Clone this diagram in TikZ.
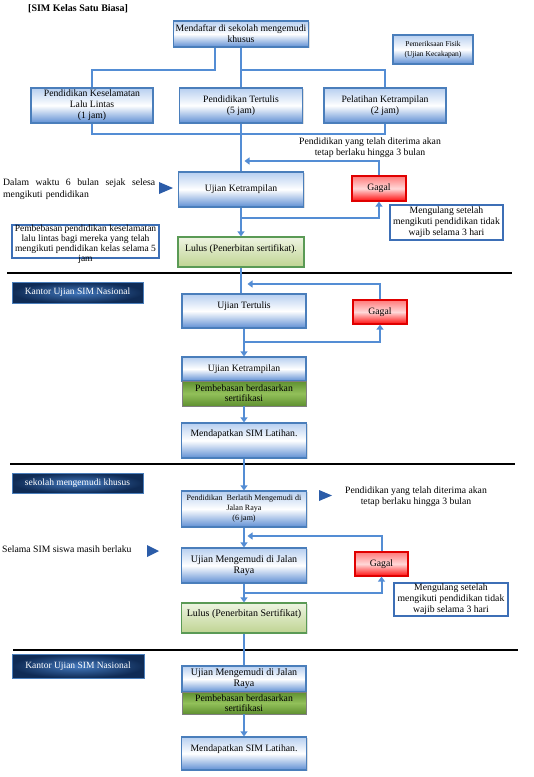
\documentclass[tikz,border=0pt]{standalone}
\usepackage{fontspec}
\setmainfont{Liberation Serif}
\usetikzlibrary{arrows.meta,shadows,calc}
\definecolor{connc}{HTML}{548DD4}
\definecolor{boxb}{HTML}{4A7EBB}
\definecolor{bluetop}{HTML}{B7CFF0}
\definecolor{bluebot}{HTML}{5F8FD4}
\definecolor{redtop}{HTML}{FF7A7A}
\definecolor{redmid}{HTML}{FFD8D8}
\definecolor{redbot}{HTML}{FF0D0D}
\definecolor{redb}{HTML}{E00000}
\definecolor{grtop}{HTML}{EEF4E2}
\definecolor{grbot}{HTML}{BFD492}
\definecolor{grb}{HTML}{5A9A55}
\definecolor{dgtop}{HTML}{5F9030}
\definecolor{dgmid}{HTML}{92C05A}
\definecolor{dgb}{HTML}{7F7F7F}
\definecolor{navyout}{HTML}{0F2B55}
\definecolor{navyin}{HTML}{4379BE}
\definecolor{trianglec}{HTML}{2B5CA8}
\definecolor{noteb}{HTML}{3D6FB6}
\newcommand\fz[2]{\fontsize{#1}{#2}\selectfont}
\begin{document}
\begin{tikzpicture}[x=1pt,y=-1pt,
  shad/.style={drop shadow={opacity=0.25,shadow xshift=1.2pt,shadow yshift=-1.2pt}},
  basebox/.style={draw, line width=1.2pt, inner sep=1pt, align=center, font=\fz{9.7}{11}, shad},
  bluebox/.style={basebox, draw=boxb, top color=bluetop, bottom color=bluebot, middle color=white},
  redbox/.style={basebox, draw=redb, top color=redtop, bottom color=redbot, middle color=redmid},
  greenbox/.style={basebox, draw=grb, top color=grtop, bottom color=grbot},
  dgreenbox/.style={basebox, draw=dgb, line width=0.8pt, top color=dgtop, bottom color=dgtop, middle color=dgmid},
  navybox/.style={draw=boxb, line width=0.8pt, inner color=navyin, outer color=navyout, text=white, font=\fz{9.5}{11}, inner sep=1pt},
  notebox/.style={draw=noteb, line width=1.5pt, fill=white, align=center, font=\fz{9.7}{11}, inner sep=1pt},
  plain/.style={align=center, font=\fz{9.7}{11}, inner sep=0pt},
  conn/.style={draw=connc, line width=2pt},
  arr/.style={-{Triangle[length=5pt,width=7pt]}},
  sz/.style 2 args={minimum width=#1pt, minimum height=#2pt}
]
\useasboundingbox (0,0) rectangle (534,777);
\fill[white] (0,0) rectangle (534,777);

% ---------- Section 1 ----------
\node[anchor=west, font=\bfseries\fz{10}{12}, inner sep=0] (title) at (28,9) {[SIM Kelas Satu Biasa]};
\node[bluebox, sz={135}{26}] (mend) at (241,34) {Mendaftar di sekolah mengemudi\\ khusus};
\node[bluebox, sz={80}{29}, font=\fz{7.5}{10}] (fisik) at (433,49.5) {Pemeriksaan Fisik\\ (Ujian Kecakapan)};
\node[bluebox, sz={122}{35}] (pk) at (92,105.5) {Pendidikan Keselamatan\\ Lalu Lintas\\ (1 jam)};
\node[bluebox, sz={123}{35}] (pt) at (241,105.5) {Pendidikan Tertulis\\ (5 jam)};
\node[bluebox, sz={122}{35}] (pl) at (385,105.5) {Pelatihan Ketrampilan\\ (2 jam)};

\coordinate (a1) at (215,70);
\coordinate (b1) at (0,134);
\draw[conn] (mend.south -| a1) -- (a1) -| (pk.north);
\draw[conn] (mend.south) -- (pt.north);
\draw[conn] (mend.south |- a1) -| (pl.north);
\draw[conn] (pk.south) -- (pk.south |- b1) -- (pl.south |- b1) -- (pl.south);

\node[bluebox, sz={125}{35}] (ujk) at (241,189.5) {Ujian Ketrampilan};
\draw[conn] (pt.south) -- (ujk.north);
\node[redbox, sz={54}{25}] (gagal1) at (379,188.5) {Gagal};
\node[plain] (note1) at (370,148) {Pendidikan yang telah diterima akan\\ tetap berlaku hingga 3 bulan};
\node[plain, anchor=north west, text width=152pt, align=left, font=\fz{9.7}{12}] (left1) at (3,179)
  {\hbox to 152pt{Dalam\hfil waktu\hfil 6\hfil bulan\hfil sejak\hfil selesa}\\ mengikuti pendidikan};
\fill[trianglec] (159,182) -- (173,188) -- (159,194) -- cycle;
\node[notebox, sz={113}{35}] (ul1) at (446.5,222.5) {Mengulang setelah\\ mengikuti pendidikan tidak\\ wajib selama 3 hari};
\node[draw=noteb, line width=1.5pt, fill=white, sz={147}{33}, inner sep=0] (peb1) at (85.5,241.5) {};
\node[plain, anchor=north, font=\fz{9.5}{10}] (peb1t) at (peb1.north) {Pembebasan pendidikan keselamatan\\ lalu lintas bagi mereka yang telah\\ mengikuti pendidikan kelas selama 5\\ jam};
\node[greenbox, sz={126}{30}, text height=7pt, text depth=9pt] (lulus1) at (241,252) {Lulus (Penerbitan sertifikat).};

\coordinate (f1) at (244.5,161);
\coordinate (g1) at (241,218);
\draw[conn,arr] (gagal1.north) |- (f1);
\draw[conn,arr] (ujk.south) -- (lulus1.north);
\draw[conn,arr] (g1) -| (gagal1.south);

\draw[line width=2.5pt] (7,273) -- (512,273);

% ---------- Section 2 ----------
\node[navybox, sz={131}{21}] (kantor1) at (77.5,292.5) {Kantor Ujian SIM Nasional};
\node[bluebox, sz={124}{34}, text height=7pt, text depth=13pt] (ut) at (244,311) {Ujian Tertulis};
\node[redbox, sz={54}{24}] (gagal2) at (380,312) {Gagal};
\node[bluebox, sz={124}{24}] (uk2) at (244,369) {Ujian Ketrampilan};
\node[dgreenbox, sz={124}{25}, font=\fz{9.7}{10}] (peb2) at (244,393.5) {Pembebasan berdasarkan\\ sertifikasi};
\node[bluebox, sz={125}{35}, text height=7pt, text depth=16pt] (msl1) at (244,440.5) {Mendapatkan SIM Latihan.};

\draw[conn] (lulus1.south) -- (lulus1.south |- ut.north);
\coordinate (f2) at (247.5,284);
\coordinate (g2) at (244,342);
\draw[conn,arr] (gagal2.north) |- (f2);
\draw[conn,arr] (ut.south) -- (uk2.north);
\draw[conn,arr] (g2) -| (gagal2.south);
\draw[conn,arr] (peb2.south) -- (msl1.north);

\draw[line width=2.5pt] (10,464) -- (515,464);

% ---------- Section 3 ----------
\node[navybox, sz={131}{20}] (sekolah) at (77.5,483) {sekolah mengemudi khusus};
\node[bluebox, sz={125}{36}, font=\fz{8}{10}] (pbm) at (244,509) {Pendidikan\ \ Berlatih Mengemudi di\\ Jalan Raya\\ (6 jam)};
\fill[trianglec] (319,490) -- (332,495.5) -- (319,501) -- cycle;
\node[plain] (note2) at (416,497) {Pendidikan yang telah diterima akan\\ tetap berlaku hingga 3 bulan};
\node[plain, anchor=west] (left3) at (2,549) {Selama SIM siswa masih berlaku};
\fill[trianglec] (147,545) -- (159,551) -- (147,557) -- cycle;
\node[bluebox, sz={125}{35}, font=\fz{10}{11.5}] (umj) at (244,565.5) {Ujian Mengemudi di Jalan\\ Raya};
\node[redbox, sz={53}{24}] (gagal3) at (381.5,564) {Gagal};
\node[notebox, sz={114}{33}] (ul3) at (451,599.5) {Mengulang setelah\\ mengikuti pendidikan tidak\\ wajib selama 3 hari};
\node[greenbox, sz={125}{30}, font=\fz{10}{11.5}, text height=7pt, text depth=11pt] (lulus3) at (244,618) {Lulus (Penerbitan Sertifikat)};

\draw[conn,arr] (msl1.south) -- (pbm.north);
\coordinate (f3) at (247.5,536);
\coordinate (g3) at (244,593);
\draw[conn,arr] (gagal3.north) |- (f3);
\draw[conn,arr] (pbm.south) -- (umj.north);
\draw[conn,arr] (umj.south) -- (lulus3.north);
\draw[conn,arr] (g3) -| (gagal3.south);

\draw[line width=2.5pt] (13,650) -- (518,650);

% ---------- Section 4 ----------
\node[navybox, sz={132}{24}] (kantor2) at (78,666) {Kantor Ujian SIM Nasional};
\node[bluebox, sz={124}{26}, font=\fz{10}{11}] (umj4) at (244,679) {Ujian Mengemudi di Jalan\\ Raya};
\node[dgreenbox, sz={124}{22}, font=\fz{9.7}{10}] (peb4) at (244,703) {Pembebasan berdasarkan\\ sertifikasi};
\node[bluebox, sz={125}{33}, text height=7pt, text depth=12pt] (msl2) at (244,753.5) {Mendapatkan SIM Latihan.};

\draw[conn] (lulus3.south) -- (umj4.north);
\draw[conn,arr] (peb4.south) -- (msl2.north);
\end{tikzpicture}
\end{document}
